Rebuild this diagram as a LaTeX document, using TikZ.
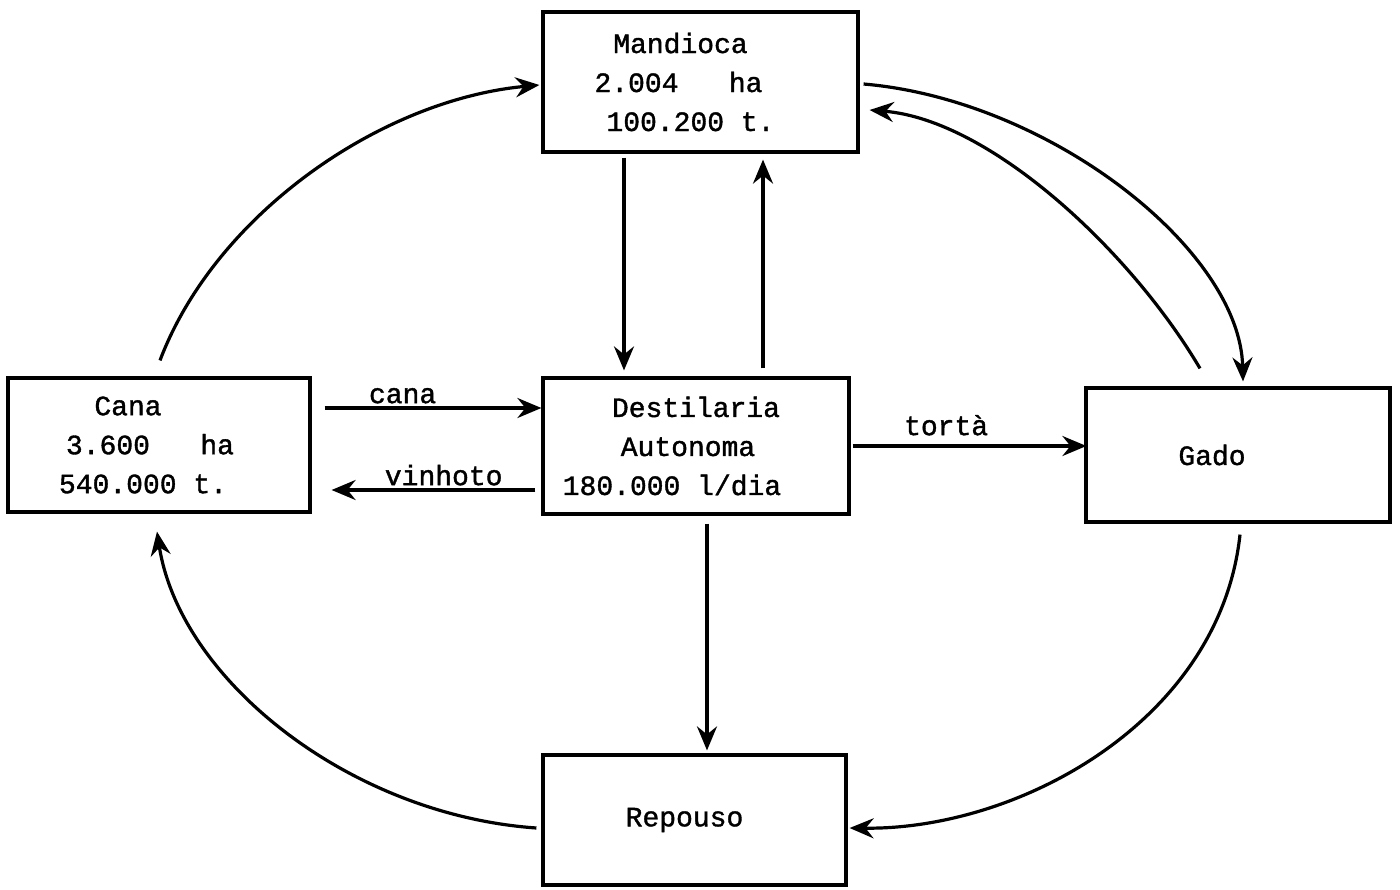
\documentclass[tikz,border=0pt]{standalone}
\usepackage{fontspec}
\newfontfamily\twfont[FakeBold=1.3]{Liberation Mono}
\usetikzlibrary{arrows.meta,calc}
\newcommand\shiftl[1]{\mbox{}\hspace{#1}\mbox{}}
\begin{document}
\begin{tikzpicture}[x=1pt,y=-1pt,
  box/.style={draw,line width=3.2pt,minimum width=#1,align=center,inner sep=0pt,
    font=\twfont\fontsize{28}{39}\selectfont},
  arr/.style={line width=3.2pt,-{Stealth[length=24pt,width=20pt,inset=8pt]}},
  lbl/.style={font=\twfont\fontsize{28}{32}\selectfont,inner sep=3pt}]
\useasboundingbox (0,0) rectangle (1400,889);
\node[box=315pt,minimum height=140pt] (mand) at (700.5,82)
  {Mandioca\shiftl{40pt}\\2.004\ \ \ ha\shiftl{44pt}\\100.200 t.\shiftl{20pt}};
\node[box=302pt,minimum height=134pt] (cana) at (159,445)
  {Cana\shiftl{62pt}\\3.600\ \ \ ha\shiftl{18pt}\\540.000 t.\shiftl{32pt}};
\node[box=306pt,minimum height=136pt] (dest) at (696,446)
  {Destilaria\\Autonoma\shiftl{16pt}\\180.000 l/dia\shiftl{48pt}};
\node[box=304pt,minimum height=134pt] (gado) at (1238,455) {\shiftl{0pt}Gado\shiftl{52pt}};
\node[box=303pt,minimum height=130pt] (rep) at (694.5,820) {Repouso\shiftl{20pt}};
% straight arrows
\draw[arr] ($(cana.east)+(13,-37)$) -- node[lbl,above,pos=0.36] {cana} ($(dest.west)+(0,-38)$);
\draw[arr] ($(dest.west)+(-6,44)$) -- node[lbl,above,pos=0.45] {vinhoto} ($(cana.east)+(20,45)$);
\draw[arr] ($(dest.east)+(2,0)$) -- node[lbl,above,pos=0.4,yshift=6pt] {tortà} ($(gado.west)+(2,-9)$);
\draw[arr] ($(mand.south)+(-76.5,4)$) -- ($(dest.north)+(-72,-6)$);
\draw[arr] ($(dest.north)+(67,-8)$) -- ($(mand.south)+(62.5,6)$);
\draw[arr] ($(dest.south)+(11,8)$) -- ($(rep.north)+(12.5,-3)$);
% curved arrows
\draw[arr] ($(cana.north)+(1,-16)$) .. controls (215,215) and (380,100) .. ($(mand.west)+(-2,3)$);
\draw[arr] ($(mand.east)+(4,2)$) .. controls (1050,100) and (1240,250) .. ($(gado.north)+(5,-5)$);
\draw[arr] ($(gado.north)+(-38,-18)$) .. controls (1130,250) and (990,120) .. ($(mand.east)+(10,28)$);
\draw[arr] ($(gado.south)+(2,11)$) .. controls (1220,720) and (1020,830) .. ($(rep.east)+(2,8)$);
\draw[arr] ($(rep.west)+(-5,8)$) .. controls (350,815) and (180,680) .. ($(cana.south)+(-2,18)$);
\end{tikzpicture}
\end{document}
